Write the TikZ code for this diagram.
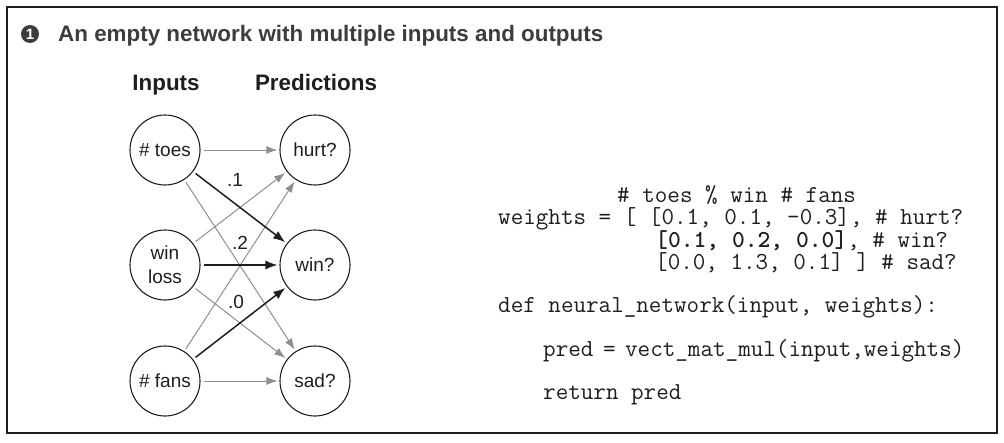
\documentclass[tikz,border=0pt]{standalone}
\usepackage{fontspec}
\setmainfont{Liberation Sans}
\usetikzlibrary{arrows.meta}
\definecolor{linkgray}{HTML}{8E8E8E}
\definecolor{titlegray}{HTML}{3C3C3C}
\definecolor{ink}{HTML}{1E1E1E}
\tikzset{
  neuron/.style={circle, draw=ink, line width=1.1pt, minimum size=70pt, inner sep=0pt,
    text=ink, font=\fontsize{19}{24}\selectfont, align=center},
  graylink/.style={draw=linkgray, line width=1pt, -{Latex[length=11pt,width=8pt]},
    shorten <=3pt, shorten >=2pt},
  blacklink/.style={draw=ink, line width=1.5pt, -{Latex[length=12pt,width=9pt]},
    shorten <=3pt, shorten >=2pt},
  wlabel/.style={text=ink, font=\fontsize{19}{24}\selectfont, inner sep=0pt},
  header/.style={text=ink, font=\fontsize{22.4}{26}\selectfont\bfseries, inner sep=0pt, anchor=base},
  codeline/.style={text=ink, font=\fontsize{24.4}{26}\ttfamily, inner sep=0pt, anchor=base west},
}
\begin{document}
\begin{tikzpicture}[x=1pt,y=-1pt]
\useasboundingbox (0,0) rectangle (1004,442);
\draw[line width=1.2pt, draw=ink] (7,7) rectangle (997,433);

% title
\node[circle, fill=titlegray, minimum size=18pt, inner sep=0pt, text=white,
  font=\fontsize{15}{15}\selectfont\bfseries] (bullet) at (30,34) {1};
\node[text=titlegray, font=\fontsize{22.4}{26}\selectfont\bfseries, inner sep=0pt, anchor=base west]
  (title) at (58,41) {An empty network with multiple inputs and outputs};

% headers
\node[header] (hin) at (166,90) {Inputs};
\node[header] (hpred) at (316,90) {Predictions};

% neurons
\node[neuron] (toes) at (165,150) {\# toes};
\node[neuron] (wl) at (165,265) {win\\loss};
\node[neuron] (fans) at (165,381) {\# fans};
\node[neuron] (hurt) at (315,150) {hurt?};
\node[neuron] (win) at (315,265) {win?};
\node[neuron] (sad) at (315,381) {sad?};

% gray links
\draw[graylink] (toes) -- (hurt);
\draw[graylink] (toes) -- (sad);
\draw[graylink] (wl) -- (hurt);
\draw[graylink] (wl) -- (sad);
\draw[graylink] (fans) -- (hurt);
\draw[graylink] (fans) -- (sad);
% black links
\draw[blacklink] (toes) -- (win);
\draw[blacklink] (wl) -- (win);
\draw[blacklink] (fans) -- (win);

% weight labels
\node[wlabel] (l1) at (235,180) {.1};
\node[wlabel] (l2) at (240,243) {.2};
\node[wlabel] (l0) at (236,302) {.0};

% code
\node[codeline] (c1) at (617,202) {\# toes \% win \# fans};
\node[codeline] (c2) at (498,224) {weights = [ [0.1, 0.1, -0.3], \# hurt?};
\node[codeline] (c3) at (655,247) {\textbf{[0.1, 0.2, 0.0]}, \# win?};
\node[codeline] (c4) at (655,269) {[0.0, 1.3, 0.1] ] \# sad?};
\node[codeline] (c5) at (498,312) {def neural\_network(input, weights):};
\node[codeline] (c6) at (543,356) {pred\hspace{-3pt} =\hspace{-3pt} vect\_mat\_mul(input,weights)};
\node[codeline] (c7) at (543,399) {return pred};
\end{tikzpicture}
\end{document}
